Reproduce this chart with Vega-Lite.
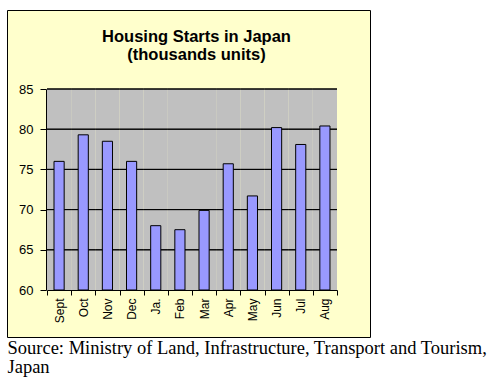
{
  "$schema": "https://vega.github.io/schema/vega-lite/v6.json",
  "width": 363,
  "height": 327,
  "autosize": {"type": "none"},
  "padding": {"left": 7, "top": 10, "right": 124, "bottom": 47},
  "background": "white",
  "config": {"view": {"fill": "#FFFFCC", "stroke": "black", "strokeWidth": 1}},
  "title": {
    "text": ["Housing Starts in Japan", "(thousands units)"],
    "font": "Liberation Sans",
    "fontSize": 16.5,
    "fontWeight": "bold",
    "color": "black",
    "anchor": "middle",
    "lineHeight": 18,
    "dx": 8,
    "dy": 57
  },
  "data": {
    "values": [
      {"month": "Sept", "starts": 76.0},
      {"month": "Oct", "starts": 79.3},
      {"month": "Nov", "starts": 78.5},
      {"month": "Dec", "starts": 76.0},
      {"month": "Ja.", "starts": 68.0},
      {"month": "Feb", "starts": 67.5},
      {"month": "Mar", "starts": 69.9},
      {"month": "Apr", "starts": 75.7},
      {"month": "May", "starts": 71.7},
      {"month": "Jun", "starts": 80.2},
      {"month": "Jul", "starts": 78.1},
      {"month": "Aug", "starts": 80.4}
    ]
  },
  "encoding": {
    "x": {
      "field": "month",
      "type": "nominal",
      "sort": null,
      "scale": {"range": [40, 330], "paddingInner": 0, "paddingOuter": 0},
      "axis": {
        "orient": "bottom",
        "offset": -47,
        "labelAngle": -90,
        "labelFont": "Liberation Sans",
        "labelFontSize": 12,
        "labelColor": "black",
        "labelPadding": 3,
        "tickBand": "extent",
        "tickSize": 5,
        "tickColor": "black",
        "domainColor": "black",
        "title": ["Source: Ministry of Land, Infrastructure, Transport and Tourism,", "Japan"],
        "titleFont": "Liberation Serif",
        "titleFontSize": 18.5,
        "titleFontWeight": "normal",
        "titleColor": "black",
        "titleAnchor": "start",
        "titleAlign": "left",
        "titleBaseline": "alphabetic",
        "titleX": 0,
        "titleY": 63,
        "titleLineHeight": 19
      }
    }
  },
  "layer": [
    {
      "mark": {"type": "rect", "color": "#C0C0C0"},
      "encoding": {
        "y": {"datum": 60, "type": "quantitative"},
        "y2": {"datum": 85}
      }
    },
    {
      "mark": {"type": "rect", "filled": false, "stroke": "black", "strokeWidth": 1},
      "encoding": {"y": {"datum": 65, "type": "quantitative"}, "y2": {"datum": 65}}
    },
    {
      "mark": {"type": "rect", "filled": false, "stroke": "black", "strokeWidth": 1},
      "encoding": {"y": {"datum": 70, "type": "quantitative"}, "y2": {"datum": 70}}
    },
    {
      "mark": {"type": "rect", "filled": false, "stroke": "black", "strokeWidth": 1},
      "encoding": {"y": {"datum": 75, "type": "quantitative"}, "y2": {"datum": 75}}
    },
    {
      "mark": {"type": "rect", "filled": false, "stroke": "black", "strokeWidth": 1},
      "encoding": {"y": {"datum": 80, "type": "quantitative"}, "y2": {"datum": 80}}
    },
    {
      "mark": {"type": "rect", "filled": false, "stroke": "black", "strokeWidth": 1},
      "encoding": {"y": {"datum": 85, "type": "quantitative"}, "y2": {"datum": 85}}
    },
    {
      "mark": {"type": "bar", "fill": "#9999FF", "stroke": "black", "strokeWidth": 1, "width": {"band": 0.42}},
      "encoding": {
        "y": {
          "field": "starts",
          "type": "quantitative",
          "scale": {"domain": [60, 85], "range": [280, 79], "nice": false, "zero": false},
          "axis": {
            "orient": "left",
            "offset": -39,
            "values": [60, 65, 70, 75, 80, 85],
            "grid": false,
            "title": null,
            "labelFont": "Liberation Sans",
            "labelFontSize": 13,
            "labelColor": "black",
            "labelPadding": 7,
            "tickSize": 6,
            "tickColor": "black",
            "domainColor": "black"
          }
        },
        "y2": {"datum": 60}
      }
    }
  ]
}
